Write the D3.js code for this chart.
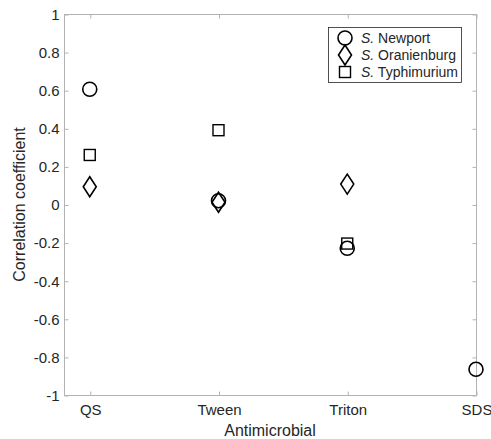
<!DOCTYPE html>
<html>
<head>
<meta charset="utf-8">
<script src="https://cdn.jsdelivr.net/npm/d3@7"></script>
<style>
  body { margin: 0; background: #fff; }
  text { font-family: "Liberation Sans", Arial, sans-serif; }
</style>
</head>
<body>
<div id="chart"></div>
<script>
// categories on the x axis
var categories = ["QS", "Tween", "Triton", "SDS"];
var yTicks = [-1, -0.8, -0.6, -0.4, -0.2, 0, 0.2, 0.4, 0.6, 0.8, 1];

// correlation coefficients per serovar (null = no point)
var newport = [0.605, 0.02, -0.23, -0.865];
var oranienburg = [0.093, 0.012, 0.107, null];
var typhimurium = [0.26, 0.39, -0.205, null];

var series = [
  {name: "Newport", shape: "circle", values: newport},
  {name: "Oranienburg", shape: "diamond", values: oranienburg},
  {name: "Typhimurium", shape: "square", values: typhimurium}
];

var W = 491, H = 439;
var pLeft = 64, pRight = 476, pTop = 14, pBottom = 395;

var svg = d3.select("#chart").append("svg")
  .attr("width", W)
  .attr("height", H);

var x = d3.scaleLinear().domain([0.8, 4]).range([pLeft, pRight]);
var y = d3.scaleLinear().domain([-1, 1]).range([pBottom, pTop]);

var axisColor = "#b3b3b3";
var textColor = "#262626";

// box
svg.append("rect")
  .attr("x", pLeft + 0.5)
  .attr("y", pTop + 0.5)
  .attr("width", pRight - pLeft)
  .attr("height", pBottom - pTop)
  .style("fill", "none")
  .style("stroke", axisColor)
  .style("stroke-width", 1);

// y ticks, inward on both sides
var yAxisL = d3.axisLeft(y).tickValues(yTicks).tickSize(-4).tickPadding(5)
  .tickFormat(function(d){ return String(Math.round(d * 10) / 10); });
var gyl = svg.append("g").attr("transform", "translate(" + (pLeft + 0.5) + ",0.5)").call(yAxisL);
var gyr = svg.append("g").attr("transform", "translate(" + (pRight + 0.5) + ",0.5)")
  .call(d3.axisRight(y).tickValues(yTicks).tickSize(-4).tickFormat(""));

var xAxisB = d3.axisBottom(x).tickValues([1, 2, 3, 4]).tickSize(-4).tickPadding(9)
  .tickFormat(function(d){ return categories[d - 1]; });
var gxb = svg.append("g").attr("transform", "translate(0.5," + (pBottom + 0.5) + ")").call(xAxisB);
var gxt = svg.append("g").attr("transform", "translate(0.5," + (pTop + 0.5) + ")")
  .call(d3.axisTop(x).tickValues([1, 2, 3, 4]).tickSize(-4).tickFormat(""));

[gyl, gyr, gxb, gxt].forEach(function(g){
  g.select(".domain").remove();
  g.selectAll("line").style("stroke", axisColor);
  g.selectAll("text").style("fill", textColor).style("font-size", "15px")
    .style("font-family", "'Liberation Sans', Arial, sans-serif");
});

// axis labels
svg.append("text")
  .attr("x", (pLeft + pRight) / 2)
  .attr("y", 436)
  .attr("text-anchor", "middle")
  .style("font-size", "16px")
  .style("fill", textColor)
  .text("Antimicrobial");

svg.append("text")
  .attr("transform", "translate(25," + ((pTop + pBottom) / 2) + ") rotate(-90)")
  .attr("text-anchor", "middle")
  .style("font-size", "16px")
  .style("fill", textColor)
  .text("Correlation coefficient");

function drawMarker(g, shape, cx, cy) {
  if (shape === "circle") {
    g.append("circle").attr("cx", cx).attr("cy", cy).attr("r", 7)
      .style("fill", "none").style("stroke", "#000").style("stroke-width", 1.6);
  } else if (shape === "square") {
    g.append("rect").attr("x", cx - 5.5).attr("y", cy - 5.5).attr("width", 11).attr("height", 11)
      .style("fill", "none").style("stroke", "#000").style("stroke-width", 1.4);
  } else {
    g.append("path")
      .attr("d", "M" + cx + "," + (cy - 10) + "L" + (cx + 6.5) + "," + cy + "L" + cx + "," + (cy + 10) + "L" + (cx - 6.5) + "," + cy + "Z")
      .style("fill", "none").style("stroke", "#000").style("stroke-width", 1.6);
  }
}

// points
var pts = svg.append("g");
series.forEach(function(s){
  s.values.forEach(function(v, i){
    if (v === null) return;
    drawMarker(pts, s.shape, x(i + 1), y(v));
  });
});

// legend
var lg = svg.append("g");
lg.append("rect")
  .attr("x", 328.5).attr("y", 27.5)
  .attr("width", 133).attr("height", 55)
  .style("fill", "#fff").style("stroke", "#262626").style("stroke-width", 0.8);

series.forEach(function(s, i){
  var ly = 38 + i * 17;
  drawMarker(lg, s.shape, 345, ly);
  var t = lg.append("text")
    .attr("x", 361).attr("y", ly + 5)
    .style("font-size", "14px")
    .style("fill", textColor);
  t.append("tspan").style("font-style", "italic").text("S.");
  t.append("tspan").text(" " + s.name);
});
</script>
</body>
</html>
